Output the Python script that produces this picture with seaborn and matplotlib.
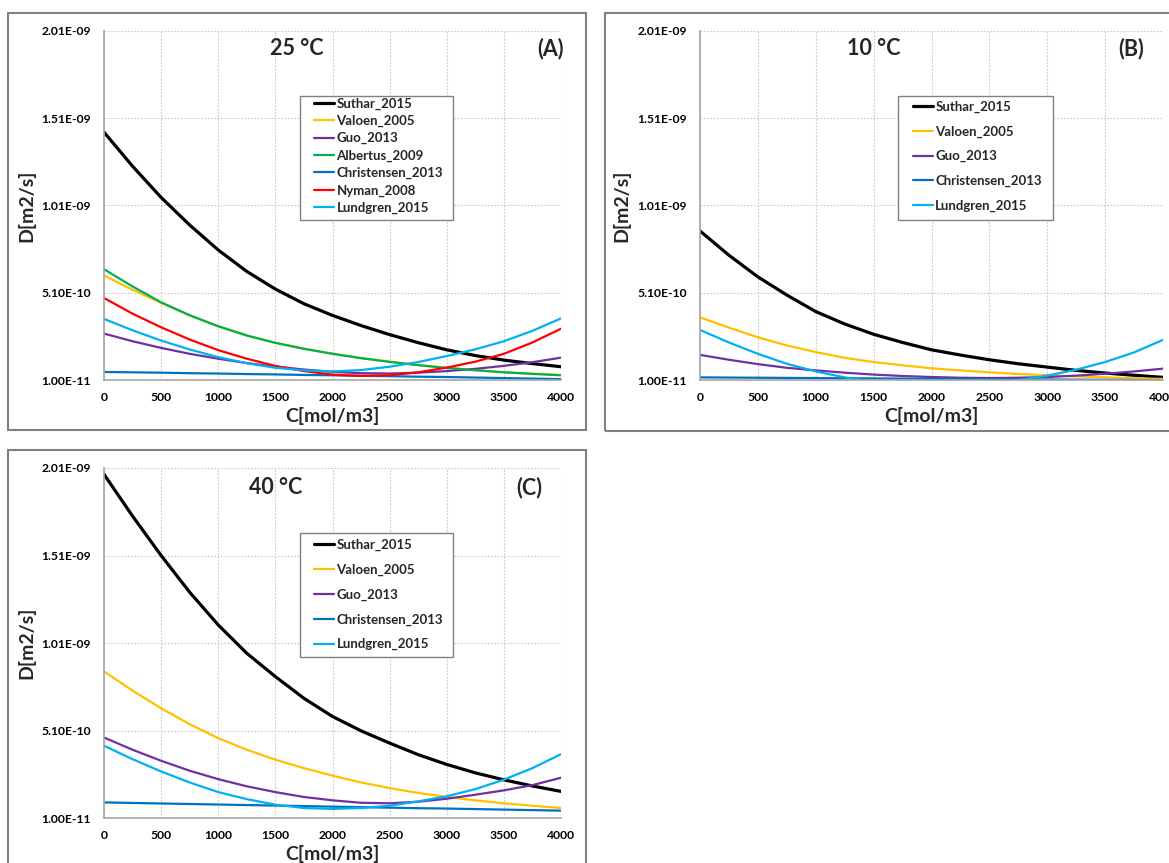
import numpy as np
import pandas as pd
import matplotlib
matplotlib.use("Agg")
import matplotlib.pyplot as plt
from matplotlib.patches import Rectangle
from matplotlib.ticker import FuncFormatter
import seaborn as sns

# ---------------- data (D in 1e-9 m2/s) ----------------
conc = [0, 250, 500, 750, 1000, 1250, 1500, 1750, 2000,
        2250, 2500, 2750, 3000, 3250, 3500, 3750, 4000]

# 25 degC
suthar_25 = [1.430, 1.235, 1.056, 0.898, 0.755, 0.632, 0.531, 0.447, 0.380,
             0.322, 0.270, 0.224, 0.183, 0.150, 0.124, 0.104, 0.086]
valoen_25 = [0.609, 0.527, 0.452, 0.380, 0.318, 0.265, 0.223, 0.189, 0.161,
             0.136, 0.115, 0.096, 0.080, 0.066, 0.055, 0.046, 0.039]
guo_25 = [0.276, 0.232, 0.194, 0.160, 0.132, 0.107, 0.087, 0.070, 0.057,
          0.049, 0.047, 0.052, 0.061, 0.074, 0.091, 0.112, 0.138]
albertus_25 = [0.645, 0.546, 0.455, 0.381, 0.318, 0.265, 0.223, 0.189, 0.160,
               0.135, 0.114, 0.095, 0.079, 0.066, 0.054, 0.045, 0.037]
christensen_25 = [0.056, 0.054, 0.052, 0.049, 0.047, 0.044, 0.042, 0.039, 0.037,
                  0.034, 0.032, 0.029, 0.027, 0.024, 0.021, 0.018, 0.015]
nyman_25 = [0.480, 0.390, 0.312, 0.242, 0.181, 0.132, 0.091, 0.061, 0.041,
            0.033, 0.037, 0.054, 0.081, 0.115, 0.160, 0.225, 0.304]
lundgren_25 = [0.360, 0.295, 0.236, 0.185, 0.141, 0.106, 0.080, 0.065, 0.059,
               0.067, 0.086, 0.113, 0.147, 0.186, 0.232, 0.292, 0.363]

# 10 degC
suthar_10 = [0.864, 0.725, 0.601, 0.497, 0.402, 0.331, 0.272, 0.225, 0.183,
             0.153, 0.126, 0.103, 0.084, 0.065, 0.050, 0.037, 0.025]
valoen_10 = [0.369, 0.310, 0.255, 0.208, 0.170, 0.137, 0.113, 0.094, 0.077,
             0.065, 0.054, 0.044, 0.037, 0.031, 0.025, 0.020, 0.016]
guo_10 = [0.154, 0.126, 0.101, 0.080, 0.065, 0.052, 0.041, 0.033, 0.027,
          0.023, 0.021, 0.023, 0.027, 0.035, 0.046, 0.059, 0.075]
christensen_10 = [0.025, 0.024, 0.023, 0.022, 0.021, 0.020, 0.019, 0.018, 0.017,
                  0.016, 0.015, 0.014, 0.013, 0.012, 0.011, 0.010, 0.009]
lundgren_10 = [0.297, 0.225, 0.160, 0.103, 0.059, 0.025, 0.002, -0.012, -0.020,
               -0.022, -0.015, 0.008, 0.035, 0.069, 0.113, 0.168, 0.240]

# 40 degC
suthar_40 = [1.974, 1.735, 1.510, 1.300, 1.113, 0.951, 0.818, 0.694, 0.590,
             0.508, 0.438, 0.372, 0.316, 0.268, 0.228, 0.193, 0.162]
valoen_40 = [0.847, 0.738, 0.637, 0.546, 0.466, 0.400, 0.343, 0.295, 0.252,
             0.213, 0.181, 0.153, 0.130, 0.111, 0.094, 0.080, 0.067]
guo_40 = [0.470, 0.400, 0.337, 0.280, 0.232, 0.191, 0.158, 0.130, 0.111,
          0.097, 0.094, 0.103, 0.120, 0.143, 0.168, 0.198, 0.240]
christensen_40 = [0.099, 0.096, 0.093, 0.090, 0.087, 0.084, 0.081, 0.078, 0.075,
                  0.072, 0.069, 0.066, 0.064, 0.061, 0.058, 0.055, 0.052]
lundgren_40 = [0.423, 0.346, 0.276, 0.213, 0.158, 0.118, 0.086, 0.067, 0.062,
               0.067, 0.080, 0.105, 0.134, 0.175, 0.229, 0.295, 0.375]

y_ticks = [1.0e-11, 5.1e-10, 1.01e-9, 1.51e-9, 2.01e-9]
x_ticks = [0, 500, 1000, 1500, 2000, 2500, 3000, 3500, 4000]

colors = {
    "Suthar_2015": "#000000",
    "Valoen_2005": "#FFC000",
    "Guo_2013": "#7030A0",
    "Albertus_2009": "#00B050",
    "Christensen_2013": "#0070C0",
    "Nyman_2008": "#FF0000",
    "Lundgren_2015": "#00B0F0",
}

panels = [
    dict(title="25 °C", tag="(A)", tx=0.422, gx=0.978, ty=0.950,
         series=[("Suthar_2015", suthar_25), ("Valoen_2005", valoen_25),
                 ("Guo_2013", guo_25), ("Albertus_2009", albertus_25),
                 ("Christensen_2013", christensen_25), ("Nyman_2008", nyman_25),
                 ("Lundgren_2015", lundgren_25)],
         rect=(104, 31, 561, 380), lspace=0.39, ltop=0.8095),
    dict(title="10 °C", tag="(B)", tx=0.375, gx=0.931, ty=0.950,
         series=[("Suthar_2015", suthar_10), ("Valoen_2005", valoen_10),
                 ("Guo_2013", guo_10), ("Christensen_2013", christensen_10),
                 ("Lundgren_2015", lundgren_10)],
         rect=(700, 31, 1163, 380), lspace=0.96, ltop=0.801),
    dict(title="40 °C", tag="(C)", tx=0.376, gx=0.930, ty=0.945,
         series=[("Suthar_2015", suthar_40), ("Valoen_2005", valoen_40),
                 ("Guo_2013", guo_40), ("Christensen_2013", christensen_40),
                 ("Lundgren_2015", lundgren_40)],
         rect=(104, 468, 561, 818), lspace=0.96, ltop=0.798),
]

sns.set_style("white")
plt.rcParams["font.family"] = ["Lato", "DejaVu Sans"]
plt.rcParams["font.weight"] = "bold"

W, H = 1169, 863
fig = plt.figure(figsize=(W / 100, H / 100), dpi=100)

# panel frames
for (x0, y0, x1, y1) in [(8, 13, 586, 430), (605, 13, 1180, 431), (8, 450, 586, 875)]:
    fig.add_artist(Rectangle((x0 / W, 1 - y1 / H), (x1 - x0) / W, (y1 - y0) / H,
                             transform=fig.transFigure, fill=False,
                             edgecolor="#808080", lw=1.5))

for p in panels:
    l, t, r, b = p["rect"]
    ax = fig.add_axes([l / W, 1 - b / H, (r - l) / W, (b - t) / H])
    rows = []
    for name, vals in p["series"]:
        for c, v in zip(conc, vals):
            rows.append({"C": c, "D": v * 1e-9, "Model": name})
    df = pd.DataFrame(rows)
    for name, _ in p["series"]:
        sub = df[df["Model"] == name]
        sns.lineplot(data=sub, x="C", y="D", color=colors[name],
                     lw=2.3 if name == "Suthar_2015" else 1.6,
                     ax=ax, label=name, legend=False)
    ax.set_xlim(0, 4000)
    ax.set_ylim(1.0e-11, 2.01e-9)
    ax.set_xticks(x_ticks)
    ax.set_yticks(y_ticks)
    ax.yaxis.set_major_formatter(FuncFormatter(lambda v, pos: f"{v:.2E}"))
    ax.grid(True, ls=(0, (1.5, 1.5)), color="#c8c8c8", lw=0.8)
    for s in ["top", "right"]:
        ax.spines[s].set_visible(False)
    for s in ["left", "bottom"]:
        ax.spines[s].set_color("#a6a6a6")
        ax.spines[s].set_linewidth(1.2)
    ax.tick_params(axis="both", length=0, labelsize=8.7, colors="#000000")
    ax.tick_params(axis="y", pad=9.5)
    ax.tick_params(axis="x", pad=8.5)
    for lab in ax.get_xticklabels() + ax.get_yticklabels():
        lab.set_fontweight("bold")
    ax.set_xlabel("C[mol/m3]", fontsize=14, fontweight="bold")
    ax.set_ylabel("D[m2/s]", fontsize=14, fontweight="bold")
    ax.xaxis.set_label_coords(0.5, -0.078)
    ax.yaxis.set_label_coords(-0.15, 0.5)
    ax.text(p["tx"], p["ty"], p["title"], transform=ax.transAxes, ha="center",
            va="center", fontsize=15.5, fontweight="bold")
    ax.text(p["gx"], p["ty"], p["tag"], transform=ax.transAxes, ha="center",
            va="center", fontsize=15.5, fontweight="bold")
    # legend box
    ax.add_patch(Rectangle((0.428, 0.459), 0.335, 0.354, transform=ax.transAxes,
                           facecolor="white", edgecolor="#808080", lw=1.0,
                           zorder=4))
    leg = ax.legend(loc="upper left", bbox_to_anchor=(0.4595, p["ltop"]),
                    borderaxespad=0, borderpad=0, frameon=False,
                    handlelength=1.52, handletextpad=0.19,
                    labelspacing=p["lspace"],
                    prop={"weight": "bold", "size": 9.5})
    leg.set_zorder(5)

fig.savefig("out.png", dpi=100)
